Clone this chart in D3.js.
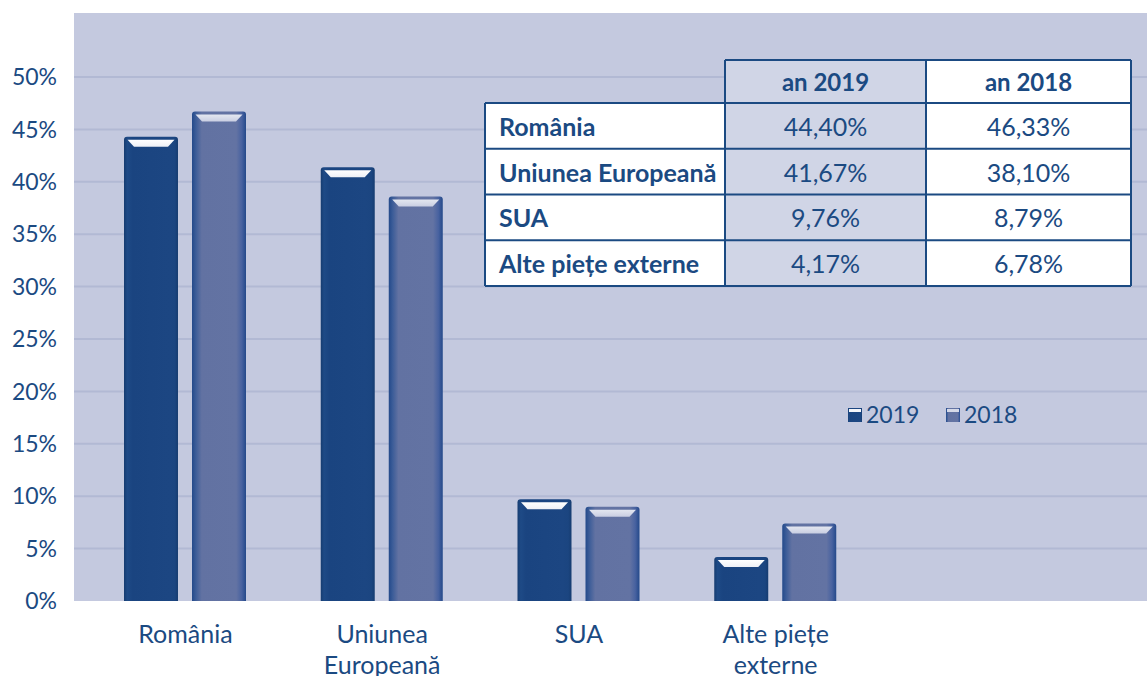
<!DOCTYPE html>
<html>
<head>
<meta charset="utf-8">
<script src="https://cdn.jsdelivr.net/npm/d3@7"></script>
<style>
  body { margin: 0; background: #fff; }
  svg text { font-family: Lato, "Open Sans", sans-serif; fill: #1B4A82; }
</style>
</head>
<body>
<svg id="chart" width="1147" height="676"></svg>
<script>
// data
var categories = ["România", "Uniunea Europeană", "SUA", "Alte piețe externe"];
var axisLabels = [["România"], ["Uniunea", "Europeană"], ["SUA"], ["Alte piețe", "externe"]];
var seriesNames = ["2019", "2018"];
// bar heights
var values2019 = [44.3, 41.4, 9.7, 4.2];
var values2018 = [46.7, 38.6, 9.0, 7.4];
// table text
var tableHeaders = ["an 2019", "an 2018"];
var table2019 = ["44,40%", "41,67%", "9,76%", "4,17%"];
var table2018 = ["46,33%", "38,10%", "8,79%", "6,78%"];
var yTicks = [0, 5, 10, 15, 20, 25, 30, 35, 40, 45, 50];

var svg = d3.select("#chart");
var plot = {left: 74, top: 13, right: 1147, bottom: 601};

var y = d3.scaleLinear().domain([0, 50]).range([plot.bottom, 77]);
var x0 = d3.scaleBand().domain(categories).range([87, 874]).padding(0);
var x1 = d3.scaleBand().domain(seriesNames).range([37, 159]).paddingInner(0.206);

var defs = svg.append("defs");
function hGrad(id, stops) {
    var g = defs.append("linearGradient").attr("id", id)
        .attr("x1", "0").attr("x2", "1").attr("y1", "0").attr("y2", "0");
    stops.forEach(s => g.append("stop").attr("offset", s[0]).attr("stop-color", s[1]));
}
function vGrad(id, c1, c2) {
    var g = defs.append("linearGradient").attr("id", id)
        .attr("x1", "0").attr("x2", "0").attr("y1", "0").attr("y2", "1");
    g.append("stop").attr("offset", 0).attr("stop-color", c1);
    g.append("stop").attr("offset", 1).attr("stop-color", c2);
}
hGrad("g2019", [[0, "#163C70"], [0.06, "#1E4A86"], [0.16, "#1A4480"], [0.84, "#1C4682"], [0.94, "#1B4580"], [1, "#163C70"]]);
hGrad("g2018", [[0, "#23498A"], [0.07, "#3B5C98"], [0.18, "#6272A2"], [0.82, "#6373A3"], [0.92, "#4862A0"], [1, "#24498A"]]);
vGrad("bevel2019", "#ffffff", "#eef0f6");
vGrad("bevel2018", "#e4e7f0", "#c9cee2");

// plot background and gridlines
svg.append("rect")
    .attr("x", plot.left).attr("y", plot.top)
    .attr("width", plot.right - plot.left).attr("height", plot.bottom - plot.top)
    .attr("fill", "#C4C9DF");

svg.append("g").selectAll("line")
    .data(yTicks.filter(d => d > 0))
    .enter().append("line")
    .attr("x1", plot.left).attr("x2", plot.right)
    .attr("y1", d => y(d)).attr("y2", d => y(d))
    .attr("stroke", "#B2B9D4").attr("stroke-width", 2);

// y axis labels
svg.append("g").selectAll("text")
    .data(yTicks)
    .enter().append("text")
    .attr("x", 57).attr("y", d => y(d))
    .attr("dy", "0.36em")
    .attr("text-anchor", "end")
    .style("font-size", "23px")
    .text(d => d + "%");

// bars
var rows = categories.map((c, i) => ({cat: c, vals: [
    {s: "2019", v: values2019[i]}, {s: "2018", v: values2018[i]}
]}));

var groups = svg.append("g").selectAll("g")
    .data(rows)
    .enter().append("g")
    .attr("transform", d => `translate(${x0(d.cat)},0)`);

var bw = x1.bandwidth();
var bars = groups.selectAll("g.bar")
    .data(d => d.vals)
    .enter().append("g").attr("class", "bar")
    .attr("transform", d => `translate(${x1(d.s)},${y(d.v)})`);

bars.append("path")
    .attr("d", d => {
        var h = plot.bottom - y(d.v), r = 3;
        return `M0,${h} V${r} Q0,0 ${r},0 H${bw - r} Q${bw},0 ${bw},${r} V${h} Z`;
    })
    .attr("fill", d => d.s === "2019" ? "url(#g2019)" : "url(#g2018)");

bars.append("path")
    .attr("d", `M3.5,3 H${bw - 3.5} L${bw - 10},10 H10 Z`)
    .attr("fill", d => d.s === "2019" ? "url(#bevel2019)" : "url(#bevel2018)");

// x axis labels
var xl = svg.append("g").selectAll("text")
    .data(categories)
    .enter().append("text")
    .attr("x", d => x0(d) + x0.bandwidth() / 2)
    .attr("y", 643)
    .attr("text-anchor", "middle")
    .style("font-size", "25px");
xl.selectAll("tspan")
    .data((d, i) => axisLabels[i])
    .enter().append("tspan")
    .attr("x", function() { return d3.select(this.parentNode).attr("x"); })
    .attr("dy", (d, i) => i === 0 ? 0 : 31)
    .text(d => d);

// legend
var legend = svg.append("g");
var legendX = [848, 946];
seriesNames.forEach((s, i) => {
    var lg = legend.append("g").attr("transform", `translate(${legendX[i]},408)`);
    lg.append("rect").attr("width", 14).attr("height", 14)
        .attr("fill", s === "2019" ? "url(#g2019)" : "url(#g2018)");
    lg.append("rect").attr("x", 1).attr("y", 1).attr("width", 12).attr("height", 3)
        .attr("fill", s === "2019" ? "#f4f5fa" : "#d5d9e8");
    lg.append("text").attr("x", 18).attr("y", 7).attr("dy", "0.36em")
        .style("font-size", "23px").text(s);
});

// table
var tbl = {x: [485, 725, 926, 1131], headTop: 60, rowTop: 103, rowH: 45.75};
var tg = svg.append("g");
var bottom = tbl.rowTop + 4 * tbl.rowH;
tg.append("rect").attr("x", tbl.x[1]).attr("y", tbl.headTop)
    .attr("width", tbl.x[2] - tbl.x[1]).attr("height", bottom - tbl.headTop)
    .attr("fill", "#D0D5E6");
tg.append("rect").attr("x", tbl.x[2]).attr("y", tbl.headTop)
    .attr("width", tbl.x[3] - tbl.x[2]).attr("height", bottom - tbl.headTop)
    .attr("fill", "#fff");
tg.append("rect").attr("x", tbl.x[0]).attr("y", tbl.rowTop)
    .attr("width", tbl.x[1] - tbl.x[0]).attr("height", 4 * tbl.rowH)
    .attr("fill", "#fff");

var lines = [];
lines.push([tbl.x[1], tbl.headTop, tbl.x[3], tbl.headTop]);
for (var r = 0; r <= 4; r++) {
    lines.push([tbl.x[0], tbl.rowTop + r * tbl.rowH, tbl.x[3], tbl.rowTop + r * tbl.rowH]);
}
lines.push([tbl.x[0], tbl.rowTop, tbl.x[0], bottom]);
lines.push([tbl.x[1], tbl.headTop, tbl.x[1], bottom]);
lines.push([tbl.x[2], tbl.headTop, tbl.x[2], bottom]);
lines.push([tbl.x[3], tbl.headTop, tbl.x[3], bottom]);
tg.selectAll("line").data(lines).enter().append("line")
    .attr("x1", d => d[0]).attr("y1", d => d[1])
    .attr("x2", d => d[2]).attr("y2", d => d[3])
    .attr("stroke", "#1B4A82").attr("stroke-width", 2);

tg.selectAll("text.head").data(tableHeaders).enter().append("text")
    .attr("class", "head")
    .attr("x", (d, i) => (tbl.x[i + 1] + tbl.x[i + 2]) / 2)
    .attr("y", (tbl.headTop + tbl.rowTop) / 2 + 1).attr("dy", "0.36em")
    .attr("text-anchor", "middle")
    .style("font-size", "24px").style("font-weight", "bold")
    .text(d => d);

tg.selectAll("text.cat").data(categories).enter().append("text")
    .attr("class", "cat")
    .attr("x", 499)
    .attr("y", (d, i) => tbl.rowTop + (i + 0.5) * tbl.rowH + 1).attr("dy", "0.36em")
    .style("font-size", "25px").style("font-weight", "bold")
    .text(d => d);

[table2019, table2018].forEach((col, c) => {
    tg.selectAll("text.v" + c).data(col).enter().append("text")
        .attr("class", "v" + c)
        .attr("x", (tbl.x[c + 1] + tbl.x[c + 2]) / 2)
        .attr("y", (d, i) => tbl.rowTop + (i + 0.5) * tbl.rowH + 1).attr("dy", "0.36em")
        .attr("text-anchor", "middle")
        .style("font-size", "25px")
        .text(d => d);
});
</script>
</body>
</html>
